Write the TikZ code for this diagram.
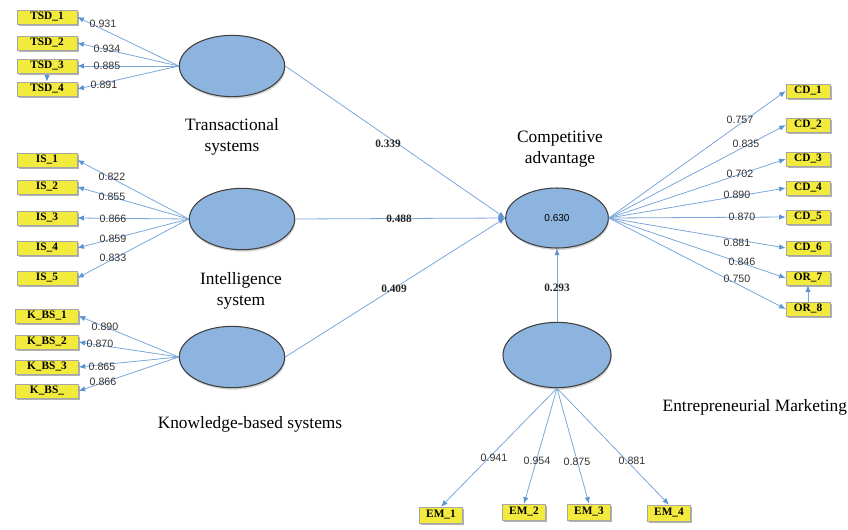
\documentclass[tikz,border=0pt]{standalone}
\usepackage{fontspec}
\setmainfont{Liberation Serif}
\newfontfamily\numfont{Liberation Sans}
\usetikzlibrary{arrows.meta,shapes.geometric,shadows}
\definecolor{pathblue}{HTML}{7BA7DB}
\definecolor{tipblue}{HTML}{5B93D3}
\definecolor{latfill}{HTML}{8DB4DE}
\definecolor{indfill}{HTML}{F2EA3C}
\tikzset{
  latent/.style={ellipse,draw=black!75,fill=latfill,line width=0.8pt,
    minimum width=79pt,minimum height=46pt,inner sep=0pt,
    drop shadow={shadow xshift=0.6pt,shadow yshift=-1.5pt,opacity=0.35}},
  indic/.style={rectangle,draw=gray!70,fill=indfill,minimum width=45pt,
    minimum height=10.5pt,inner sep=0pt,font=\fontsize{8.5}{9}\selectfont\bfseries,
    drop shadow={shadow xshift=1.3pt,shadow yshift=-1.3pt,fill=gray!60,opacity=1}},
  load/.style={draw=pathblue,line width=0.6pt,-{Latex[length=5pt,width=4pt,color=tipblue]}},
  coef/.style={text=black!80,font=\numfont\fontsize{8}{9}\selectfont,inner sep=0.5pt},
  beta/.style={text=black!85,font=\fontsize{8.5}{9}\selectfont\bfseries,inner sep=0.5pt},
  title/.style={align=center,font=\fontsize{13}{16}\selectfont}
}
\begin{document}
\begin{tikzpicture}[x=0.75pt,y=-0.75pt]
    \useasboundingbox (0,0) rectangle (848,529);
    % latent variables
    \node[latent] (ts) at (232,66) {};
    \node[latent] (is) at (242,219) {};
    \node[latent] (kbs) at (232,357) {};
    \node[latent,minimum width=77pt,minimum height=45pt] (ca) at (557,218) {\numfont\fontsize{7.5}{9}\selectfont 0.630};
    \node[latent,minimum width=81pt,minimum height=49pt] (em) at (557,355) {};
    \node[title] (tslab) at (232,137) {Transactional\\systems};
    \node[title] (islab) at (241,291) {Intelligence\\system};
    \node[title] (kbslab) at (250,424) {Knowledge-based systems};
    \node[title] (calab) at (560,149) {Competitive\\advantage};
    \node[title,anchor=west] (emlab) at (658,407) {Entrepreneurial Marketing};
    % transactional systems
    \foreach \i/\y/\v/\lx/\ly in {1/17/0.931/103/24,2/43/0.934/107/49,3/66/0.885/107/66,4/89/0.891/104/85}
    {
        \node[indic] (tsd\i) at (47,\y) {TSD\_\i};
        \draw[load] (ts.west) -- (tsd\i.east);
        \node[coef] at (\lx,\ly) {\v};
    }
    \draw[load] (tsd3.south) -- (tsd4.north);
    % intelligence system
    \foreach \i/\y/\v/\lx/\ly in {1/160/0.822/112/177,2/187/0.855/112/197,3/218/0.866/113/219,4/248/0.859/113/239,5/278/0.833/113/258}
    {
        \node[indic] (is\i) at (47,\y) {IS\_\i};
        \draw[load] (is.west) -- (is\i.east);
        \node[coef] at (\lx,\ly) {\v};
    }
    % knowledge-based systems
    \foreach \i/\y/\t/\v/\lx/\ly in {1/316/K\_BS\_1/0.890/105/327,2/342/K\_BS\_2/0.870/100/344,3/367/K\_BS\_3/0.865/102/367,4/391/K\_BS\_/0.866/103/382}
    {
        \node[indic,minimum width=47pt] (kbs\i) at (47,\y) {\t};
        \draw[load] (kbs.west) -- (kbs\i.east);
        \node[coef] at (\lx,\ly) {\v};
    }
    % competitive advantage
    \foreach \n/\y/\t/\v/\lx/\ly in {cd1/91/CD\_1/0.757/740/120,cd2/125/CD\_2/0.835/746/144,cd3/159/CD\_3/0.702/740/174,cd4/188/CD\_4/0.890/737/195,cd5/217/CD\_5/0.870/742/217,cd6/248/CD\_6/0.881/737/243,or7/278/OR\_7/0.846/742/262,or8/309/OR\_8/0.750/737/279}
    {
        \node[indic,minimum width=33pt] (\n) at (808,\y) {\t};
        \draw[load] (ca.east) -- (\n.west);
        \node[coef] at (\lx,\ly) {\v};
    }
    \draw[load] (or8.north) -- (or7.south);
    % entrepreneurial marketing
    \foreach \i/\x/\y/\v/\lx/\ly in {1/441/515/0.941/494/458,2/524/512/0.954/537/461,3/589/512/0.875/577/462,4/669/513/0.881/632/461}
    {
        \node[indic,minimum width=32pt,minimum height=12pt] (em\i) at (\x,\y) {EM\_\i};
        \draw[load] (em.south) -- (em\i.north);
        \node[coef] at (\lx,\ly) {\v};
    }
    % structural paths
    \draw[load] (ts.east) -- (ca.west);
    \draw[load] (is.east) -- (ca.west);
    \draw[load] (kbs.east) -- (ca.west);
    \draw[load] (em.north) -- (ca.south);
    \node[beta] at (388,144) {0.339};
    \node[beta] at (399,219) {0.488};
    \node[beta] at (394,289) {0.409};
    \node[beta] at (557,288) {0.293};
\end{tikzpicture}
\end{document}
